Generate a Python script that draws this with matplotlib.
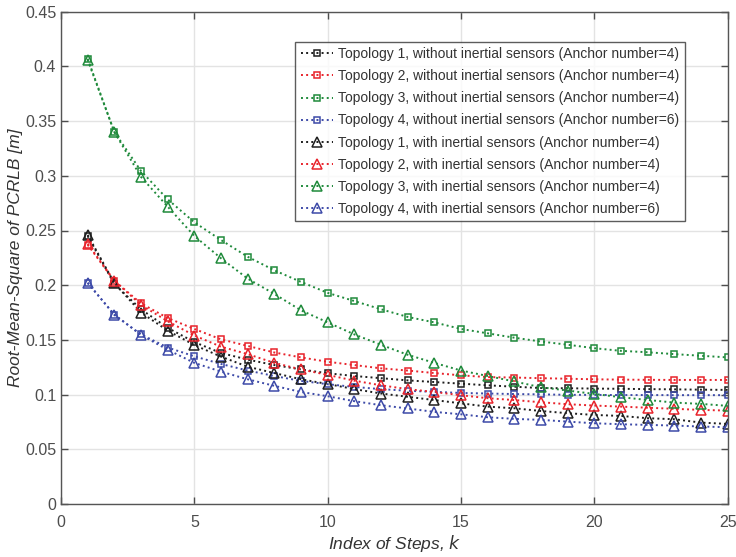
import matplotlib
matplotlib.use("Agg")
import matplotlib.pyplot as plt
import numpy as np

plt.rcParams['font.family'] = ['Liberation Sans', 'DejaVu Sans']

steps = list(range(1, 26))

t1_without = [0.245, 0.201, 0.178, 0.161, 0.148, 0.138, 0.132, 0.127, 0.123, 0.1195,
              0.117, 0.115, 0.113, 0.1115, 0.110, 0.1085, 0.1072, 0.106, 0.1058, 0.1055,
              0.1053, 0.105, 0.1048, 0.1045, 0.1043]
t2_without = [0.237, 0.204, 0.1834, 0.170, 0.160, 0.1505, 0.1445, 0.1385, 0.134, 0.130,
              0.127, 0.124, 0.122, 0.1197, 0.1176, 0.116, 0.1156, 0.115, 0.1145, 0.114,
              0.1137, 0.1135, 0.1134, 0.1134, 0.1134]
t3_without = [0.407, 0.340, 0.3044, 0.2785, 0.2575, 0.2413, 0.226, 0.2136, 0.203, 0.193,
              0.1855, 0.178, 0.171, 0.166, 0.160, 0.156, 0.152, 0.1485, 0.1456, 0.1424,
              0.140, 0.1387, 0.137, 0.1355, 0.134]
t4_without = [0.202, 0.173, 0.155, 0.143, 0.135, 0.128, 0.122, 0.117, 0.1125, 0.1095,
              0.107, 0.105, 0.1035, 0.1025, 0.1015, 0.101, 0.1005, 0.1002, 0.0998, 0.0997,
              0.0996, 0.0996, 0.0995, 0.0995, 0.0995]
t1_with = [0.246, 0.202, 0.175, 0.1585, 0.1453, 0.1347, 0.1255, 0.1197, 0.114, 0.1097,
           0.105, 0.101, 0.098, 0.095, 0.092, 0.089, 0.0875, 0.085, 0.083, 0.0814,
           0.0805, 0.0784, 0.0775, 0.0744, 0.0732]
t2_with = [0.238, 0.204, 0.182, 0.167, 0.154, 0.1438, 0.137, 0.129, 0.123, 0.118,
           0.1127, 0.1085, 0.105, 0.1024, 0.0994, 0.0967, 0.095, 0.093, 0.0912, 0.090,
           0.089, 0.088, 0.087, 0.086, 0.0854]
t3_with = [0.406, 0.340, 0.299, 0.2718, 0.245, 0.2246, 0.206, 0.192, 0.177, 0.166,
           0.155, 0.1455, 0.1364, 0.129, 0.122, 0.117, 0.112, 0.1067, 0.1037, 0.1006,
           0.0976, 0.0951, 0.0927, 0.0915, 0.0897]
t4_with = [0.2023, 0.173, 0.1545, 0.141, 0.129, 0.121, 0.114, 0.108, 0.1024, 0.0985,
           0.094, 0.0903, 0.0873, 0.0842, 0.082, 0.0793, 0.0778, 0.0769, 0.0753, 0.0738,
           0.0729, 0.0723, 0.0717, 0.0708, 0.0702]

labels = [
    "Topology 1, without inertial sensors (Anchor number=4)",
    "Topology 2, without inertial sensors (Anchor number=4)",
    "Topology 3, without inertial sensors (Anchor number=4)",
    "Topology 4, without inertial sensors (Anchor number=6)",
    "Topology 1, with inertial sensors (Anchor number=4)",
    "Topology 2, with inertial sensors (Anchor number=4)",
    "Topology 3, with inertial sensors (Anchor number=4)",
    "Topology 4, with inertial sensors (Anchor number=6)",
]
series = [t1_without, t2_without, t3_without, t4_without,
          t1_with, t2_with, t3_with, t4_with]

colors = ['#1e1e1e', '#e8232b', '#1f8a3b', '#3d4aa8']

fig = plt.figure(figsize=(7.36, 5.57), dpi=100)
ax = fig.add_axes([61/736, 53/557, 666.7/736, 492.3/557])

for i, (vals, lab) in enumerate(zip(series, labels)):
    c = colors[i % 4]
    if i < 4:
        ax.plot(steps, vals, linestyle=':', color=c, linewidth=1.4,
                marker='s', markersize=4.2, markerfacecolor='none',
                markeredgecolor=c, markeredgewidth=1.1, label=lab)
    else:
        ax.plot(steps, vals, linestyle=':', color=c, linewidth=1.4,
                marker='^', markersize=6.5, markerfacecolor='none',
                markeredgecolor=c, markeredgewidth=1.1, label=lab)

ax.set_xlim(0, 25)
ax.set_ylim(0, 0.45)
ax.set_xticks([0, 5, 10, 15, 20, 25])
ax.set_yticks([0, 0.05, 0.1, 0.15, 0.2, 0.25, 0.3, 0.35, 0.4, 0.45])
ax.set_yticklabels(['0', '0.05', '0.1', '0.15', '0.2', '0.25', '0.3', '0.35', '0.4', '0.45'])
ax.grid(True, color='#e3e3e3', linewidth=1.0)
ax.set_axisbelow(True)
ax.tick_params(direction='in', length=5, width=1.0, colors='#4d4d4d',
               top=True, right=True, labelsize=11.5, labelcolor='#4d4d4d')
ax.tick_params(axis='x', pad=8)
for sp in ax.spines.values():
    sp.set_color('#555555')
    sp.set_linewidth(1.0)

ax.set_xlabel('Index of Steps, $\\mathit{k}$', fontsize=12.5, style='italic',
              color='#333333', labelpad=2)
ax.set_ylabel('Root-Mean-Square of PCRLB [m]', fontsize=12.5, style='italic',
              color='#333333', labelpad=1)

leg = ax.legend(loc='upper left', bbox_to_anchor=(0.351, 0.939), borderaxespad=0,
                fontsize=10, frameon=True, fancybox=False, handlelength=2.3,
                handletextpad=0.4, labelspacing=0.58, borderpad=0.4)
leg.get_frame().set_edgecolor('#333333')
leg.get_frame().set_linewidth(1.0)
for t in leg.get_texts():
    t.set_color('#333333')

fig.savefig('out.png', dpi=100)
